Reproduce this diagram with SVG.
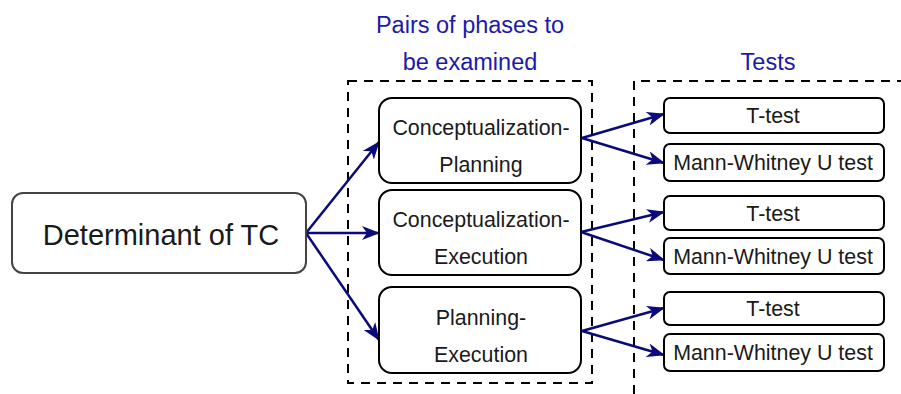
<svg xmlns="http://www.w3.org/2000/svg" width="901" height="394" viewBox="0 0 901 394">
<style>
text{font-family:"Liberation Sans",Arial,sans-serif;text-anchor:middle;fill:#1a1a1a}
.h{fill:#1a1aaa;font-size:23.5px}
.box{fill:#fff;stroke:#000;stroke-width:2}
.main{fill:#fff;stroke:#444;stroke-width:2}
.dash{fill:none;stroke:#000;stroke-width:2;stroke-dasharray:9 7}
.t{font-size:21.4px}
.c{fill:none;stroke:#0a0a7a;stroke-width:2.5;marker-end:url(#ah)}
</style>
<defs>
<marker id="ah" markerUnits="userSpaceOnUse" viewBox="0 0 18 14" refX="17" refY="7" markerWidth="18" markerHeight="14" orient="auto">
<path d="M0,0 L18,7 L0,14 L5,7 Z" fill="#0a0a7a"/>
</marker>
</defs>
<rect width="901" height="394" fill="#fff"/>
<g id="groups">
<rect class="dash" x="348" y="81" width="244" height="302"/>
<path class="dash" d="M634 394 V81 H901"/>
<text class="h" x="470" y="33">Pairs of phases to</text>
<text class="h" x="470" y="70">be examined</text>
<text class="h" x="768" y="70">Tests</text>
</g>
<g id="connectors">
<path class="c" d="M306 233 L379 142"/>
<path class="c" d="M306 233 L379 233"/>
<path class="c" d="M306 233 L379 340"/>
<path class="c" d="M582 138 L664 114"/>
<path class="c" d="M582 138 L664 163"/>
<path class="c" d="M581 232 L664 212"/>
<path class="c" d="M581 232 L664 260"/>
<path class="c" d="M582 331 L664 308"/>
<path class="c" d="M582 331 L664 355"/>
</g>
<g id="determinant">
<rect class="main" x="12" y="193" width="294" height="80" rx="11"/>
<text x="161" y="245" style="font-size:29px">Determinant of TC</text>
</g>
<g id="phase1">
<rect class="box" x="379" y="98" width="202" height="85" rx="13"/>
<text class="t" x="481" y="135">Conceptualization-</text>
<text class="t" x="481" y="172">Planning</text>
</g>
<g id="phase2">
<rect class="box" x="379" y="190" width="202" height="85" rx="13"/>
<text class="t" x="481" y="227">Conceptualization-</text>
<text class="t" x="481" y="264">Execution</text>
</g>
<g id="phase3">
<rect class="box" x="379" y="287" width="202" height="86" rx="13"/>
<text class="t" x="481" y="325">Planning-</text>
<text class="t" x="481" y="362">Execution</text>
</g>
<g id="ttest1">
<rect class="box" x="664" y="98" width="220" height="35" rx="6"/>
<text class="t" x="773" y="123">T-test</text>
</g>
<g id="mw1">
<rect class="box" x="664" y="144" width="220" height="37" rx="6"/>
<text class="t" x="773" y="170">Mann-Whitney U test</text>
</g>
<g id="ttest2">
<rect class="box" x="664" y="196" width="220" height="34" rx="6"/>
<text class="t" x="773" y="221">T-test</text>
</g>
<g id="mw2">
<rect class="box" x="664" y="238" width="220" height="36" rx="6"/>
<text class="t" x="773" y="264">Mann-Whitney U test</text>
</g>
<g id="ttest3">
<rect class="box" x="664" y="292" width="220" height="33" rx="6"/>
<text class="t" x="773" y="316">T-test</text>
</g>
<g id="mw3">
<rect class="box" x="664" y="334" width="220" height="37" rx="6"/>
<text class="t" x="773" y="360">Mann-Whitney U test</text>
</g>
</svg>
